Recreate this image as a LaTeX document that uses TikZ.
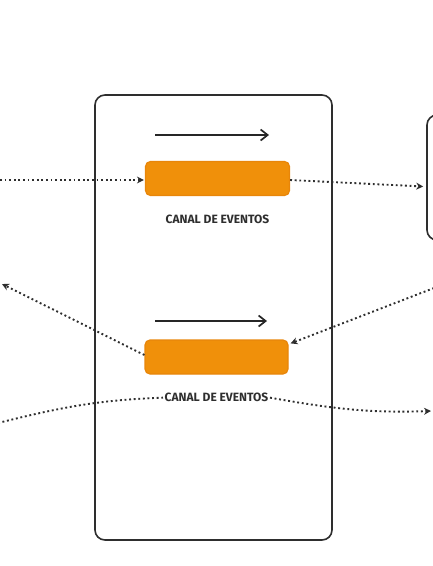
\documentclass[tikz,border=0pt]{standalone}
\usepackage{fontspec}
\setmainfont{Fira Sans}
\usepackage{tikz}
\usetikzlibrary{arrows.meta, positioning, calc}
\definecolor{evorange}{HTML}{F0900A}
\definecolor{evedge}{HTML}{E8860A}
\definecolor{inkgray}{HTML}{2E2E2E}
\tikzstyle{channel} = [rectangle, draw=evedge, line width=1.2pt, fill=evorange, rounded corners=5pt, minimum width=144pt, minimum height=34pt, inner sep=0pt]
\tikzstyle{chlabel} = [font=\fontsize{12}{14}\selectfont\bfseries, text=inkgray, inner sep=1.5pt]
\tikzstyle{frame} = [rectangle, draw=inkgray, line width=1.6pt, rounded corners=10pt]
\tikzstyle{flow} = [line width=1.7pt, draw=black!85, -{Straight Barb[length=7pt,width=11pt]}]
\tikzstyle{event} = [line width=1.9pt, draw=inkgray, dash pattern=on 1.9pt off 2.7pt, -{Stealth[length=7pt,width=7pt]}]

\begin{document}
\begin{tikzpicture}[x=1pt, y=-1pt]
    \useasboundingbox (0,0) rectangle (432,566);
    % Service frames
    
\node[frame, minimum width=237pt, minimum height=445pt] (service) at (213.5,317.5) {};
    
\node[frame, minimum width=70pt, minimum height=125pt] (consumer) at (462,177.5) {};
    
    % Event channels
    
\node[channel] (chan1) at (217.5,178.5) {};
    
\node[chlabel, below=17pt of chan1] (lab1) {CANAL DE EVENTOS};
    
\node[channel, minimum width=143pt] (chan2) at (216.5,357) {};
    
\node[chlabel, below=17pt of chan2] (lab2) {CANAL DE EVENTOS};
    
    % Direction arrows
    \coordinate (dir1s) at (155,135);
    \coordinate (dir1e) at (269,135);
    \coordinate (dir2s) at (155,321);
    \coordinate (dir2e) at (267,321);
    \draw[flow] (dir1s) -- (dir1e);
    \draw[flow] (dir2s) -- (dir2e);
    
    % Outer ends
    \coordinate (inA) at (0,180);
    \coordinate (outA) at (2,284);
    \coordinate (inB) at (434,288);
    \coordinate (inC) at (-2,423);
    \coordinate (outC) at (431,411);
    
    % Event flows
    \draw[event] (inA) -- ($(chan1.west)+(-1,1.5)$);
    \draw[event] ($(chan1.east)+(0,1.5)$) -- ($(consumer.west)+(-3,9)$);
    \draw[event] ($(chan2.west)+(0,-2)$) -- (outA);
    \draw[event] (inB) -- ($(chan2.north east)+(2,4)$);
    \draw[event, -] (inC) to[out=14, in=182] (lab2.west);
    \draw[event] (lab2.east) to[out=-10, in=182] (outC);
\end{tikzpicture}
\end{document}
